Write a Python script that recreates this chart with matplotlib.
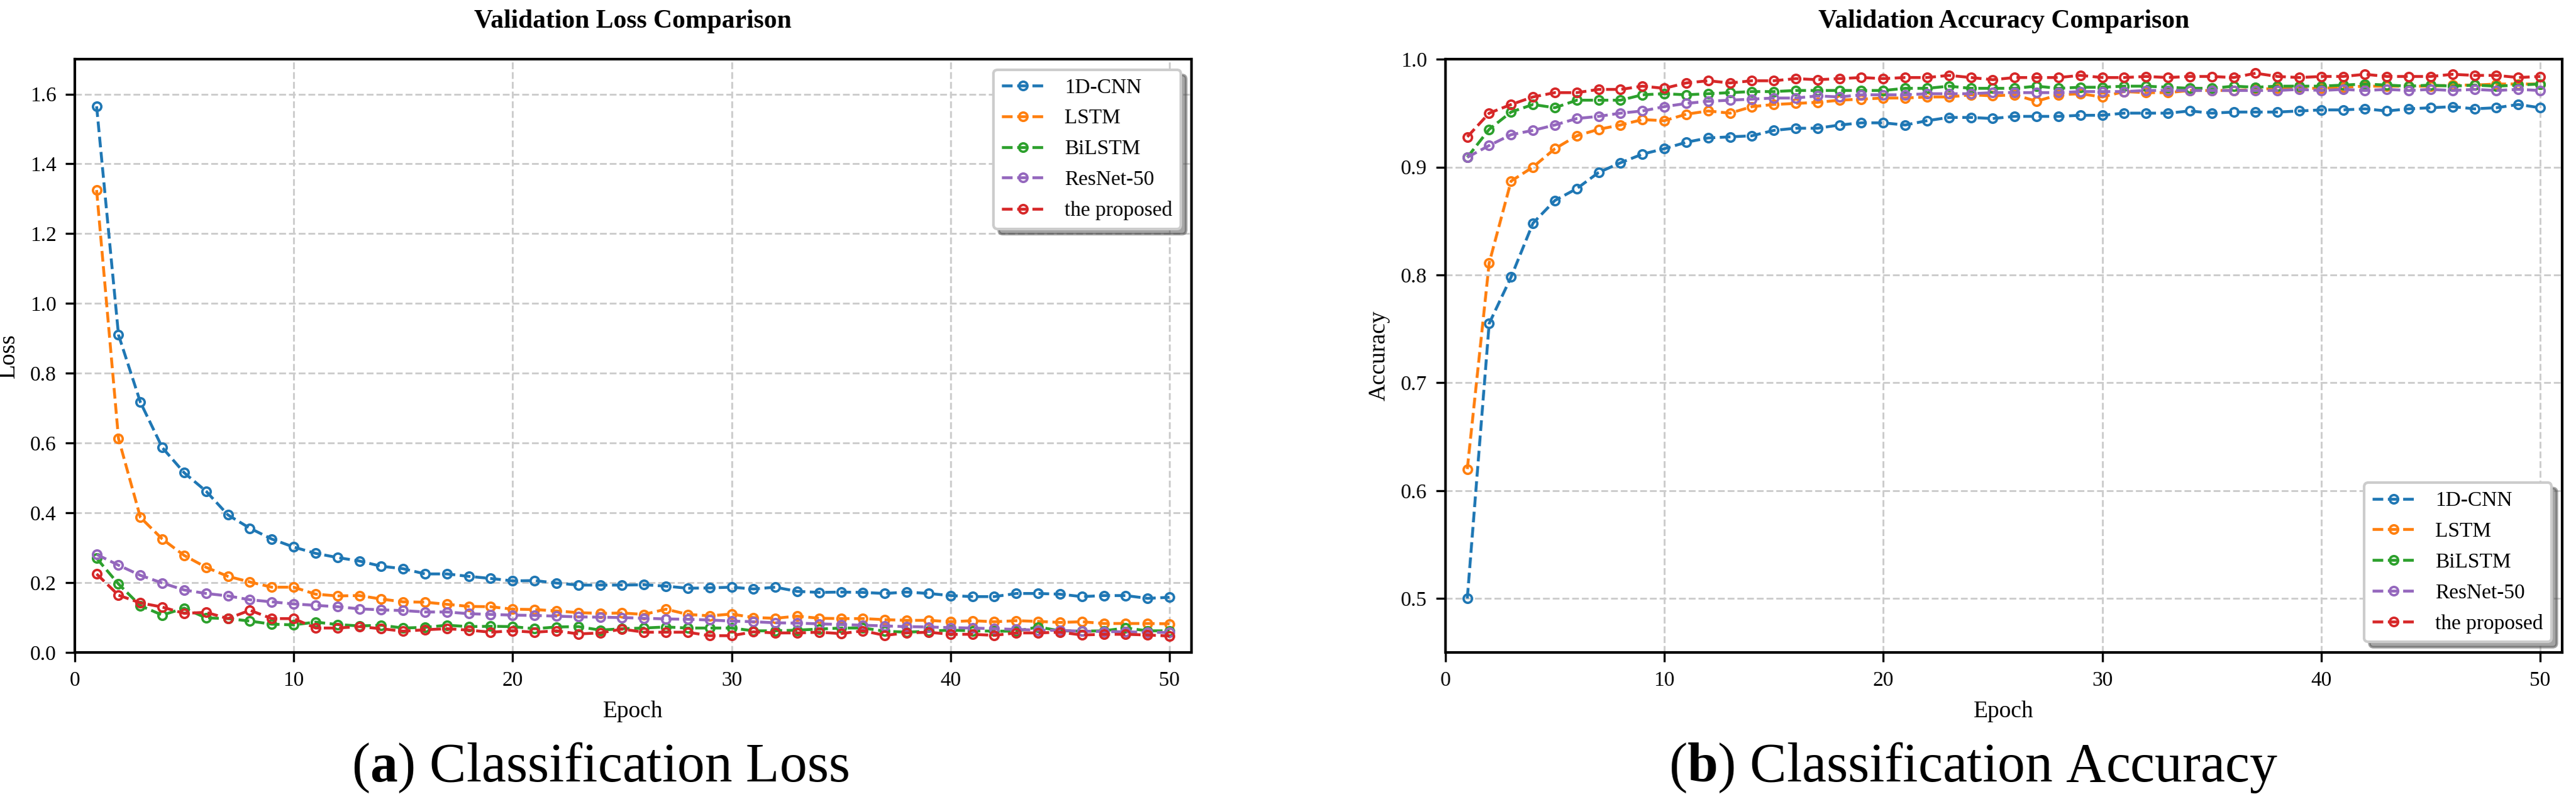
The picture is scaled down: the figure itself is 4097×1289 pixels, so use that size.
import matplotlib
matplotlib.use('Agg')
import matplotlib.pyplot as plt

plt.rcParams['font.family'] = ['Liberation Serif', 'DejaVu Serif']
plt.rcParams['mathtext.fontset'] = 'custom'
plt.rcParams['mathtext.rm'] = 'Liberation Serif'
plt.rcParams['mathtext.bf'] = 'Liberation Serif:bold'

epochs = list(range(1, 51))
models = ['1D-CNN', 'LSTM', 'BiLSTM', 'ResNet-50', 'the proposed']

# validation loss per model
loss_cnn = [1.565, 0.910, 0.717, 0.587, 0.515, 0.462, 0.394, 0.356, 0.325, 0.302,
            0.284, 0.272, 0.262, 0.247, 0.240, 0.225, 0.225, 0.218, 0.212, 0.205,
            0.206, 0.199, 0.193, 0.193, 0.193, 0.194, 0.190, 0.184, 0.185, 0.187,
            0.182, 0.187, 0.175, 0.172, 0.173, 0.172, 0.169, 0.173, 0.169, 0.163,
            0.160, 0.160, 0.169, 0.169, 0.167, 0.160, 0.163, 0.163, 0.155, 0.158]
loss_lstm = [1.325, 0.613, 0.387, 0.325, 0.278, 0.244, 0.218, 0.202, 0.187, 0.187,
             0.167, 0.162, 0.163, 0.153, 0.145, 0.144, 0.138, 0.132, 0.131, 0.124,
             0.123, 0.119, 0.114, 0.112, 0.113, 0.109, 0.124, 0.109, 0.105, 0.110,
             0.100, 0.098, 0.104, 0.098, 0.097, 0.097, 0.094, 0.092, 0.092, 0.088,
             0.091, 0.088, 0.091, 0.089, 0.086, 0.088, 0.083, 0.083, 0.083, 0.082]
loss_bilstm = [0.270, 0.196, 0.134, 0.107, 0.127, 0.099, 0.097, 0.090, 0.081, 0.079,
               0.087, 0.080, 0.076, 0.078, 0.070, 0.072, 0.078, 0.074, 0.075, 0.074,
               0.068, 0.073, 0.074, 0.064, 0.068, 0.070, 0.073, 0.070, 0.070, 0.070,
               0.062, 0.062, 0.064, 0.067, 0.070, 0.070, 0.061, 0.058, 0.061, 0.064,
               0.062, 0.061, 0.061, 0.073, 0.062, 0.061, 0.062, 0.070, 0.062, 0.062]
loss_resnet = [0.281, 0.250, 0.221, 0.199, 0.179, 0.169, 0.162, 0.151, 0.145, 0.139,
               0.135, 0.131, 0.125, 0.122, 0.120, 0.116, 0.116, 0.111, 0.109, 0.107,
               0.106, 0.104, 0.102, 0.101, 0.100, 0.098, 0.096, 0.095, 0.093, 0.090,
               0.088, 0.085, 0.084, 0.082, 0.080, 0.078, 0.076, 0.074, 0.073, 0.071,
               0.070, 0.068, 0.066, 0.064, 0.063, 0.061, 0.060, 0.059, 0.058, 0.057]
loss_proposed = [0.225, 0.164, 0.142, 0.130, 0.112, 0.115, 0.097, 0.121, 0.097, 0.097,
                 0.070, 0.070, 0.074, 0.068, 0.061, 0.065, 0.068, 0.064, 0.058, 0.062,
                 0.058, 0.062, 0.053, 0.056, 0.067, 0.058, 0.058, 0.058, 0.048, 0.048,
                 0.059, 0.056, 0.056, 0.058, 0.054, 0.062, 0.049, 0.056, 0.058, 0.052,
                 0.052, 0.049, 0.056, 0.056, 0.058, 0.050, 0.052, 0.052, 0.050, 0.047]

# validation accuracy per model
acc_cnn = [0.500, 0.755, 0.798, 0.848, 0.869, 0.880, 0.895, 0.904, 0.912, 0.917,
           0.923, 0.927, 0.928, 0.929, 0.934, 0.936, 0.936, 0.939, 0.941, 0.941,
           0.939, 0.943, 0.946, 0.946, 0.945, 0.947, 0.947, 0.947, 0.948, 0.948,
           0.950, 0.950, 0.950, 0.952, 0.950, 0.951, 0.951, 0.951, 0.952, 0.953,
           0.953, 0.954, 0.952, 0.954, 0.955, 0.956, 0.954, 0.955, 0.958, 0.955]
acc_lstm = [0.620, 0.811, 0.887, 0.900, 0.917, 0.929, 0.935, 0.939, 0.944, 0.943,
            0.949, 0.952, 0.950, 0.956, 0.958, 0.959, 0.960, 0.962, 0.963, 0.964,
            0.964, 0.965, 0.965, 0.967, 0.966, 0.967, 0.961, 0.967, 0.968, 0.965,
            0.970, 0.969, 0.969, 0.971, 0.971, 0.971, 0.972, 0.973, 0.973, 0.973,
            0.974, 0.975, 0.975, 0.975, 0.975, 0.976, 0.976, 0.977, 0.977, 0.977]
acc_bilstm = [0.909, 0.935, 0.951, 0.958, 0.955, 0.962, 0.962, 0.962, 0.967, 0.968,
              0.967, 0.968, 0.969, 0.970, 0.970, 0.971, 0.971, 0.971, 0.971, 0.971,
              0.973, 0.973, 0.975, 0.973, 0.973, 0.973, 0.975, 0.973, 0.974, 0.974,
              0.975, 0.975, 0.974, 0.973, 0.973, 0.975, 0.974, 0.975, 0.975, 0.975,
              0.976, 0.977, 0.976, 0.975, 0.976, 0.975, 0.976, 0.975, 0.976, 0.977]
acc_resnet = [0.909, 0.920, 0.930, 0.934, 0.939, 0.945, 0.947, 0.950, 0.952, 0.956,
              0.959, 0.961, 0.962, 0.963, 0.964, 0.964, 0.966, 0.965, 0.967, 0.967,
              0.967, 0.968, 0.968, 0.968, 0.969, 0.969, 0.969, 0.969, 0.970, 0.970,
              0.970, 0.971, 0.971, 0.971, 0.971, 0.971, 0.971, 0.971, 0.972, 0.971,
              0.972, 0.971, 0.972, 0.971, 0.972, 0.971, 0.972, 0.971, 0.972, 0.971]
acc_proposed = [0.928, 0.950, 0.958, 0.965, 0.969, 0.969, 0.972, 0.972, 0.975, 0.973,
                0.978, 0.980, 0.978, 0.980, 0.980, 0.982, 0.981, 0.982, 0.983, 0.982,
                0.983, 0.983, 0.985, 0.983, 0.981, 0.983, 0.983, 0.983, 0.985, 0.983,
                0.983, 0.984, 0.983, 0.984, 0.984, 0.983, 0.987, 0.984, 0.983, 0.984,
                0.984, 0.986, 0.984, 0.984, 0.984, 0.986, 0.985, 0.985, 0.983, 0.984]

loss_data = [loss_cnn, loss_lstm, loss_bilstm, loss_resnet, loss_proposed]
acc_data = [acc_cnn, acc_lstm, acc_bilstm, acc_resnet, acc_proposed]
colors = ['#1f77b4', '#ff7f0e', '#2ca02c', '#9467bd', '#d62728']

fig = plt.figure(figsize=(4097 / 300, 1289 / 300), dpi=300)
ax1 = fig.add_axes([0.029, 0.1955, 0.4335, 0.7315])
ax2 = fig.add_axes([0.5611, 0.1955, 0.4335, 0.7315])


def draw_panel(ax, data, title, ylabel, ylim, yticks, legend_loc):
    for vals, name, c in zip(data, models, colors):
        ax.plot(epochs, vals, linestyle='--', marker='o', color=c, label=name,
                linewidth=1.1, markersize=3.2, markerfacecolor='none',
                markeredgewidth=0.9)
    ax.set_xlim(0, 51)
    ax.set_ylim(*ylim)
    ax.set_xticks([0, 10, 20, 30, 40, 50])
    ax.set_yticks(yticks)
    ax.set_title(title, fontsize=10, fontweight='bold', pad=12)
    ax.set_xlabel('Epoch', fontsize=9)
    ax.set_ylabel(ylabel, fontsize=9)
    ax.tick_params(labelsize=8)
    ax.grid(True, linestyle='--', color='#cccccc', linewidth=0.7)
    for s in ax.spines.values():
        s.set_linewidth(1.0)
    ax.legend(loc=legend_loc, fontsize=8, fancybox=True, shadow=True,
              handletextpad=1.0, labelspacing=0.55)


draw_panel(ax1, loss_data, 'Validation Loss Comparison', 'Loss', (0, 1.7),
           [0.0, 0.2, 0.4, 0.6, 0.8, 1.0, 1.2, 1.4, 1.6], 'upper right')
draw_panel(ax2, acc_data, 'Validation Accuracy Comparison', 'Accuracy', (0.45, 1.0),
           [0.5, 0.6, 0.7, 0.8, 0.9, 1.0], 'lower right')

fig.text(0.233, 0.0535, r'($\mathbf{a}$) Classification Loss', fontsize=21,
         ha='center', va='center')
fig.text(0.766, 0.0535, r'($\mathbf{b}$) Classification Accuracy', fontsize=21,
         ha='center', va='center')

fig.savefig('out.png', dpi=300)
